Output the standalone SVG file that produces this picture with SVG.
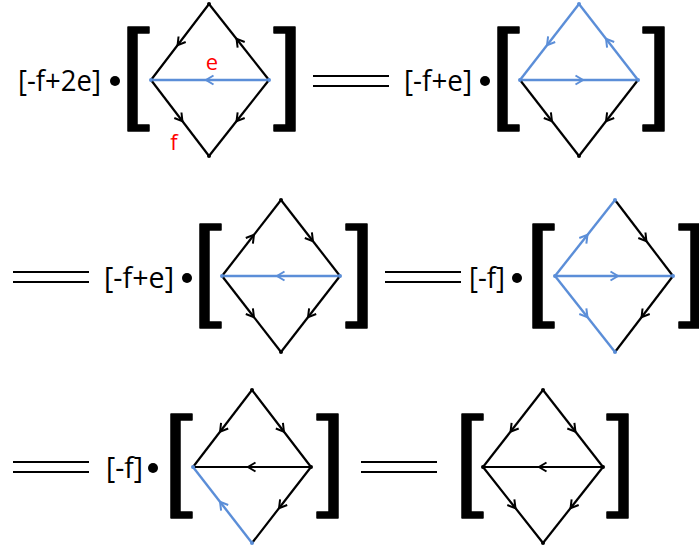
<svg xmlns="http://www.w3.org/2000/svg" xmlns:xlink="http://www.w3.org/1999/xlink" width="699" height="548" viewBox="0 0 699 548">
<style>
.k{fill:none;stroke:#000;stroke-width:2.2}
.b{fill:none;stroke:#5B8ED8;stroke-width:2.4}
.kk{marker-mid:url(#ak)}
.bb{marker-mid:url(#ab)}
.br{fill:#000;stroke:#000;stroke-width:1.5;stroke-linejoin:round}
.eq{stroke:#000;stroke-width:2}
.lbl{font-family:"Open Sans","Liberation Sans",sans-serif;font-size:29px;fill:#000}
.red{font-family:"Open Sans","Liberation Sans",sans-serif;font-size:22px;fill:#ff0000}
.vk{fill:#000}
.vb{fill:#5B8ED8}
</style>
<defs>
<marker id="ak" markerUnits="userSpaceOnUse" markerWidth="14" markerHeight="14" viewBox="-7 -7 14 14" refX="0" refY="0" orient="auto" overflow="visible">
<path d="M-3.5,-4.5 L4,0 L-3.5,4.5" fill="none" stroke="#000" stroke-width="2"/>
</marker>
<marker id="ab" markerUnits="userSpaceOnUse" markerWidth="14" markerHeight="14" viewBox="-7 -7 14 14" refX="0" refY="0" orient="auto" overflow="visible">
<path d="M-3.5,-4.5 L4,0 L-3.5,4.5" fill="none" stroke="#5B8ED8" stroke-width="2"/>
</marker>
<path id="lb" d="M21,0 H0 V104 H21 V98 H9 V6 H21 Z"/>
<path id="rb" d="M0,0 H21 V104 H0 V98 H12 V6 H0 Z"/>
</defs>

<!-- equals signs -->
<g id="equals">
<line class="eq" x1="313" y1="76" x2="389" y2="76"/><line class="eq" x1="313" y1="86" x2="389" y2="86"/>
<line class="eq" x1="13" y1="272" x2="89" y2="272"/><line class="eq" x1="13" y1="282" x2="89" y2="282"/>
<line class="eq" x1="385" y1="272" x2="461" y2="272"/><line class="eq" x1="385" y1="282" x2="461" y2="282"/>
<line class="eq" x1="13" y1="462" x2="89" y2="462"/><line class="eq" x1="13" y1="472" x2="89" y2="472"/>
<line class="eq" x1="361" y1="462" x2="437" y2="462"/><line class="eq" x1="361" y1="472" x2="437" y2="472"/>
</g>

<!-- labels -->
<g id="labels">
<text class="lbl" x="18" y="91" textLength="83" lengthAdjust="spacingAndGlyphs">[-f+2e]</text>
<circle cx="115" cy="81" r="5"/>
<text class="lbl" x="404" y="91" textLength="68" lengthAdjust="spacingAndGlyphs">[-f+e]</text>
<circle cx="485" cy="81" r="5"/>
<text class="lbl" x="104" y="288" textLength="70" lengthAdjust="spacingAndGlyphs">[-f+e]</text>
<circle cx="187" cy="278" r="5"/>
<text class="lbl" x="469" y="288" textLength="36" lengthAdjust="spacingAndGlyphs">[-f]</text>
<circle cx="517" cy="278" r="5"/>
<text class="lbl" x="106" y="478" textLength="37" lengthAdjust="spacingAndGlyphs">[-f]</text>
<circle cx="153" cy="468" r="5"/>
<text class="red" x="212" y="70" text-anchor="middle">e</text>
<text class="red" x="174" y="150" text-anchor="middle">f</text>
</g>

<!-- brackets -->
<g id="brackets">
<use xlink:href="#lb" class="br" x="128" y="27"/><use xlink:href="#rb" class="br" x="274" y="27"/>
<use xlink:href="#lb" class="br" x="498" y="27"/><use xlink:href="#rb" class="br" x="643" y="27"/>
<use xlink:href="#lb" class="br" x="200" y="224"/><use xlink:href="#rb" class="br" x="346" y="224"/>
<use xlink:href="#lb" class="br" x="533" y="224"/><use xlink:href="#rb" class="br" x="679" y="224"/>
<use xlink:href="#lb" class="br" x="171" y="414"/><use xlink:href="#rb" class="br" x="317" y="414"/>
<use xlink:href="#lb" class="br" x="462" y="414"/><use xlink:href="#rb" class="br" x="607" y="414"/>
</g>

<!-- connectors -->
<g id="connectors">
<!-- D1: T(209,4) L(151,80) R(269,80) B(209,156) -->
<path class="k kk" d="M209,4 L180,42 L151,80"/>
<path class="k kk" d="M269,80 L239,42 L209,4"/>
<path class="b bb" d="M269,80 L210,80 L151,80"/>
<path class="k kk" d="M151,80 L180,118 L209,156"/>
<path class="k kk" d="M269,80 L239,118 L209,156"/>
<!-- D2: T(579,4) L(520,80) R(638,80) B(579,156) -->
<path class="b bb" d="M579,4 L549.5,42 L520,80"/>
<path class="b bb" d="M638,80 L608.5,42 L579,4"/>
<path class="b bb" d="M520,80 L579,80 L638,80"/>
<path class="k kk" d="M520,80 L549.5,118 L579,156"/>
<path class="k kk" d="M638,80 L608.5,118 L579,156"/>
<!-- D3: T(281,200) L(222,276) R(340,276) B(281,352) -->
<path class="k kk" d="M222,276 L251.5,238 L281,200"/>
<path class="k kk" d="M281,200 L310.5,238 L340,276"/>
<path class="b bb" d="M340,276 L281,276 L222,276"/>
<path class="k kk" d="M222,276 L251.5,314 L281,352"/>
<path class="k kk" d="M340,276 L310.5,314 L281,352"/>
<!-- D4: T(615,200) L(555,276) R(673,276) B(615,352) -->
<path class="b bb" d="M555,276 L585,238 L615,200"/>
<path class="k kk" d="M615,200 L644,238 L673,276"/>
<path class="b bb" d="M555,276 L614,276 L673,276"/>
<path class="b bb" d="M555,276 L585,314 L615,352"/>
<path class="k kk" d="M673,276 L644,314 L615,352"/>
<!-- D5: T(252,390) L(193,467) R(311,467) B(252,543) -->
<path class="k kk" d="M252,390 L222.5,428.5 L193,467"/>
<path class="k kk" d="M252,390 L281.5,428.5 L311,467"/>
<path class="k kk" d="M311,467 L252,467 L193,467"/>
<path class="b bb" d="M252,543 L222.5,505 L193,467"/>
<path class="k kk" d="M311,467 L281.5,505 L252,543"/>
<!-- D6: T(543,390) L(483,467) R(603,467) B(543,543) -->
<path class="k kk" d="M543,390 L513,428.5 L483,467"/>
<path class="k kk" d="M543,390 L573,428.5 L603,467"/>
<path class="k kk" d="M603,467 L543,467 L483,467"/>
<path class="k kk" d="M483,467 L513,505 L543,543"/>
<path class="k kk" d="M603,467 L573,505 L543,543"/>
</g>

<!-- vertices -->
<g id="d1"><circle class="vk" cx="209" cy="4" r="2"/><circle class="vb" cx="151" cy="80" r="2"/><circle class="vb" cx="269" cy="80" r="2"/><circle class="vk" cx="209" cy="156" r="2"/></g>
<g id="d2"><circle class="vb" cx="579" cy="4" r="2"/><circle class="vb" cx="520" cy="80" r="2"/><circle class="vb" cx="638" cy="80" r="2"/><circle class="vk" cx="579" cy="156" r="2"/></g>
<g id="d3"><circle class="vk" cx="281" cy="200" r="2"/><circle class="vb" cx="222" cy="276" r="2"/><circle class="vb" cx="340" cy="276" r="2"/><circle class="vk" cx="281" cy="352" r="2"/></g>
<g id="d4"><circle class="vb" cx="615" cy="200" r="2"/><circle class="vb" cx="555" cy="276" r="2"/><circle class="vb" cx="673" cy="276" r="2"/><circle class="vb" cx="615" cy="352" r="2"/></g>
<g id="d5"><circle class="vk" cx="252" cy="390" r="2"/><circle class="vb" cx="193" cy="467" r="2"/><circle class="vk" cx="311" cy="467" r="2"/><circle class="vb" cx="252" cy="543" r="2"/></g>
<g id="d6"><circle class="vk" cx="543" cy="390" r="2"/><circle class="vk" cx="483" cy="467" r="2"/><circle class="vk" cx="603" cy="467" r="2"/><circle class="vk" cx="543" cy="543" r="2"/></g>
</svg>
